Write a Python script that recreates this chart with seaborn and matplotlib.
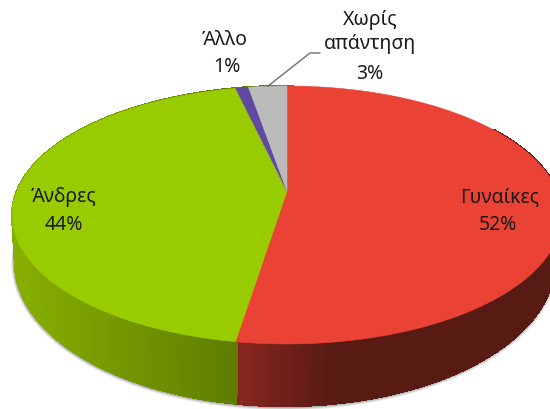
"""Greek respondent-gender pie, drawn with a tilted perspective disc."""

import matplotlib
matplotlib.use("Agg")
import matplotlib.pyplot as plt
import numpy as np
import seaborn as sns

labels = ["Γυναίκες", "Άνδρες", "Άλλο", "Χωρίς\nαπάντηση"]
shown_pct = ["52%", "44%", "1%", "3%"]
values = [52.49, 43.91, 0.9, 2.7]
top_colors = ["#EA4335", "#99CC00", "#604AA0", "#BBBBBB"]

# side wall shading, left to right in the picture
green_side = ["#87AF00", "#5F7D00"]
red_side = ["#8A2620", "#581B14", "#581B14"]

# disc geometry in pixels
CX, CY = 287, 192       # where the slices meet
TILT = 0.186            # perspective strength
RX, RY = 270, 124.5
TOP_ELL = (287, 216, 275, 129)
BOT_ELL = (285, 263, 270, 144)


def project(phi):
    """phi = clockwise angle from 12 o'clock, radians."""
    x, y = np.sin(phi), np.cos(phi)
    w = 1 + TILT * y
    return CX + RX * x / w, CY - RY * y / w


def wall_point(px, py):
    # same position on the lower rim as a point on the upper rim
    t = np.arctan2((py - TOP_ELL[1]) / TOP_ELL[3], (px - TOP_ELL[0]) / TOP_ELL[2])
    return BOT_ELL[0] + BOT_ELL[2] * np.cos(t), BOT_ELL[1] + BOT_ELL[3] * np.sin(t)


sns.set_theme(style="white")
plt.rcParams["font.family"] = ["Noto Sans", "DejaVu Sans"]

fig = plt.figure(figsize=(5.5, 4.1), dpi=100)
ax = fig.add_axes([0, 0, 1, 1])
ax.set_xlim(0, 550)
ax.set_ylim(410, 0)
ax.axis("off")

edges = np.radians(np.cumsum([0] + values) * 3.6)
red_ramp = sns.blend_palette(red_side, 80)
green_ramp = sns.blend_palette(green_side, 80)

# soft shadow under the lower rim
rim_x, rim_y = wall_point(*project(np.linspace(edges[0] + 1.0, edges[2] + 0.25, 300)))
for lw, alpha in [(5, 0.10), (3.5, 0.18), (2, 0.28)]:
    ax.plot(rim_x - 0.5, rim_y + 0.8, color="#555555", lw=lw, alpha=alpha, zorder=1,
            solid_capstyle="round")

# side wall, as thin strips coloured by horizontal position
wall = np.linspace(edges[0] + 1.0, edges[2] + 0.25, 420)
for a, b in zip(wall[:-1], wall[1:]):
    x0, y0 = project(a)
    x1, y1 = project(b)
    bx0, by0 = wall_point(x0, y0)
    bx1, by1 = wall_point(x1, y1)
    mid = (a + b) / 2
    if mid < edges[1]:
        pos = np.clip((x0 - 235) / (430 - 235), 0, 1)
        color = red_ramp[int(pos * 79)]
    else:
        pos = np.clip((x0 - 15) / (235 - 15), 0, 1)
        color = green_ramp[int(pos * 79)]
    ax.fill([x0, x1, bx1, bx0], [y0, y1, by1, by0], color=color, lw=1.0, zorder=2,
            antialiased=False)

# top face
for start, end, color in zip(edges[:-1], edges[1:], top_colors):
    phi = np.linspace(start, end, 200)
    px, py = project(phi)
    ax.fill(np.r_[CX, px], np.r_[CY, py], color=color, lw=0.4, zorder=3)

# labels
text_pos = [(500, 197, 498, 225), (64, 197, 64, 225), (225, 40, 227, 67), (370, 32, 370, 74)]
for name, pct, (nx, ny, vx, vy) in zip(labels, shown_pct, text_pos):
    ax.text(nx, ny, name, ha="center", va="center", fontsize=14, color="#1a1a1a",
            linespacing=1.2, zorder=5)
    ax.text(vx, vy, pct, ha="center", va="center", fontsize=14, color="#1a1a1a", zorder=5)

# leader for the last slice
lx, ly = project((edges[3] + edges[4]) / 2)
ax.plot([lx, 310, 320], [ly, 54, 54], color="#6e6e6e", lw=1, zorder=4)

fig.savefig("out.png", dpi=100)
